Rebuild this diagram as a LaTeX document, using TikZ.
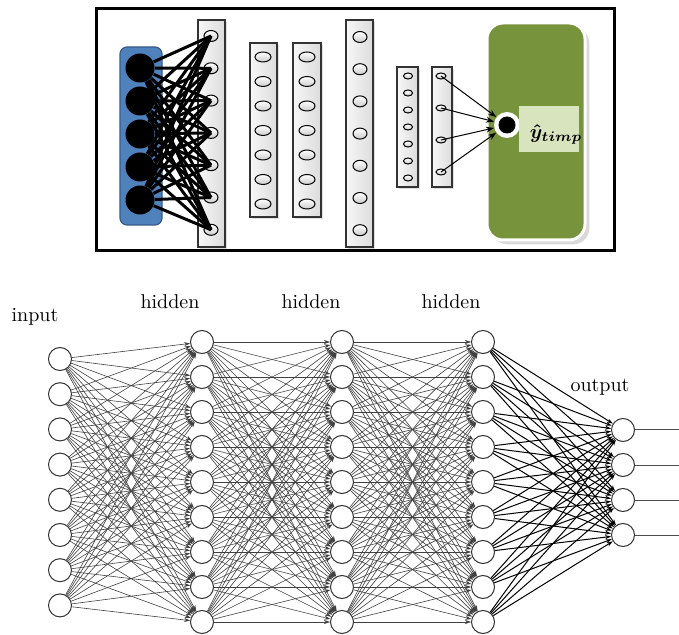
\documentclass[tikz,border=0pt]{standalone}
\usepackage{bm}
\usetikzlibrary{shapes.geometric,arrows.meta,shadows}
\definecolor{inblue}{RGB}{79,129,189}
\definecolor{outgreen}{RGB}{119,147,60}
\definecolor{lightgreen}{RGB}{215,228,189}
\tikzset{
  layerbox/.style={draw=black!80,line width=0.7pt,left color=gray!6,right color=gray!28,drop shadow={opacity=0.25,shadow xshift=1pt,shadow yshift=-1pt}},
  cell/.style={ellipse,draw=black,line width=0.5pt,inner sep=0pt,minimum width=7pt,minimum height=5.5pt,top color=white,bottom color=gray!40},
  widecell/.style={cell,minimum width=8pt,minimum height=5pt},
  smallcell/.style={cell,minimum width=4.5pt,minimum height=3pt},
  blackunit/.style={circle,fill=black,inner sep=0pt,minimum size=14.5pt},
  neuron/.style={circle,draw=black!80,fill=white,line width=0.5pt,inner sep=0pt,minimum size=11.5pt},
  wire/.style={-{Stealth[length=3pt,width=2pt]},black!75,line width=0.3pt},
  outwire/.style={-{Stealth[length=3pt,width=2pt]},black,line width=0.5pt}
}
\begin{document}
\begin{tikzpicture}[x=0.5pt,y=-0.5pt]
  \useasboundingbox (0,0) rectangle (679,635);
  % top panel
  \draw[line width=1.5pt] (96,9) rectangle (614,251);
  \draw[draw=inblue!70!black,fill=inblue,rounded corners=3.5pt,line width=0.6pt] (120,47) rectangle (162,225);
  \draw[layerbox] (198,20) rectangle (225,247);
  \draw[layerbox] (250,43) rectangle (277,217);
  \draw[layerbox] (293,43) rectangle (321,217);
  \draw[layerbox] (346,20) rectangle (373,247);
  \draw[layerbox] (397,67) rectangle (418,187);
  \draw[layerbox] (432,67) rectangle (452,187);
  \foreach \i in {1,...,7}{
    \node[cell] (la\i) at (211,{36+32.3*(\i-1)}) {};
    \node[widecell] (lb\i) at (263,{57+24.5*(\i-1)}) {};
    \node[widecell] (lc\i) at (307,{57+24.5*(\i-1)}) {};
    \node[cell] (ld\i) at (360,{37+32.2*(\i-1)}) {};
    \node[smallcell] (le\i) at (408,{76+17*(\i-1)}) {};
  }
  \foreach \i in {1,...,4}
    \node[smallcell,minimum width=5pt] (lf\i) at (441,{76+32*(\i-1)}) {};
  \foreach \i in {1,...,5}
    \node[blackunit] (x\i) at (140,{68+33*(\i-1)}) {};
  \foreach \i in {1,...,5}
    \foreach \j in {1,...,7}
      \draw[line width=1.5pt] (x\i) -- (la\j.center);
  % output block
  \draw[draw=white,line width=1.5pt,fill=outgreen,rounded corners=8pt,drop shadow={opacity=0.3}] (487,23) rectangle (585,240);
  \node[circle,fill=white,inner sep=0pt,minimum size=13pt] (yout) at (507,125) {};
  \node[circle,fill=black,inner sep=0pt,minimum size=8.5pt] (ycore) at (507,125) {};
  \node[fill=lightgreen,inner sep=0pt,minimum width=30pt,minimum height=23pt] (ybox) at (549,129) {};
  \node (ytext) at (556,134) {$\bm{\hat{y}}_{\bm{timp}}$};
  \foreach \i in {1,...,4}
    \draw[-{Stealth[length=4pt,width=3pt]},line width=0.5pt] (lf\i.center) -- (yout);
  % bottom network
  \foreach \i in {1,...,8}
    \node[neuron] (i\i) at (60,{359+35.2*(\i-1)}) {};
  \foreach \i in {1,...,9}{
    \node[neuron] (ha\i) at (202,{342+35*(\i-1)}) {};
    \node[neuron] (hb\i) at (342,{342+35*(\i-1)}) {};
    \node[neuron] (hc\i) at (483,{342+35*(\i-1)}) {};
  }
  \foreach \i in {1,...,4}{
    \node[neuron] (o\i) at (623,{430+35*(\i-1)}) {};
    \coordinate (e\i) at (679,{430+35*(\i-1)});
    \draw[line width=0.5pt,black!70] (o\i) -- (e\i);
  }
  \foreach \i in {1,...,9}{
    \foreach \j in {1,...,8}
      \draw[wire] (i\j) -- (ha\i);
    \foreach \j in {1,...,9}{
      \draw[wire] (ha\j) -- (hb\i);
      \draw[wire] (hb\j) -- (hc\i);
    }
  }
  \foreach \i in {1,...,4}
    \foreach \j in {1,...,9}
      \draw[outwire] (hc\j) -- (o\i);
  \node (tin) at (35,317) {input};
  \node (th1) at (170,302) {hidden};
  \node (th2) at (311,302) {hidden};
  \node (th3) at (451,302) {hidden};
  \node (tout) at (600,387) {output};
\end{tikzpicture}
\end{document}
